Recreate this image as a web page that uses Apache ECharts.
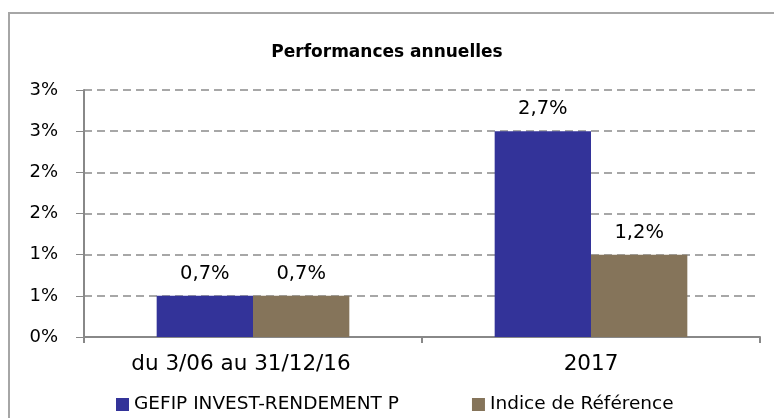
<!DOCTYPE html>
<html>
<head>
<meta charset="utf-8">
<script src="https://cdn.jsdelivr.net/npm/echarts@6/dist/echarts.min.js"></script>
<style>
  html, body { margin: 0; padding: 0; background: #fff; }
  #chart { width: 774px; height: 418px; }
</style>
</head>
<body>
<div id="chart"></div>
<script>
var chart = echarts.init(document.getElementById('chart'));

var periods = ['du 3/06 au 31/12/16', '2017'];
var fundName = 'GEFIP INVEST-RENDEMENT P';
var indexName = 'Indice de Référence';
var fundPerf = [0.7, 2.7];
var indexPerf = [0.7, 1.2];

var font = 'DejaVu Sans';

var pct = function (v) {
    return v.toFixed(1).replace('.', ',') + '%';
};

var option = {
    animation: false,
    textStyle: { fontFamily: font },
    title: {
        text: 'Performances annuelles',
        left: 'center',
        top: 39,
        textStyle: { fontFamily: font, fontSize: 17, fontWeight: 'bold', color: '#000' }
    },
    graphic: [{
        type: 'rect',
        shape: { x: 9, y: 13, width: 800, height: 450 },
        style: { fill: 'none', stroke: '#a6a6a6', lineWidth: 2 },
        silent: true
    }],
    legend: {
        left: 111,
        top: 390,
        itemWidth: 13,
        itemHeight: 13,
        itemGap: 73,
        icon: 'rect',
        textStyle: { fontFamily: font, fontSize: 18.5, color: '#000' },
        data: [fundName, indexName]
    },
    grid: { left: 84, right: 14, top: 90, bottom: 81 },
    xAxis: {
        type: 'category',
        data: periods,
        axisLine: { lineStyle: { color: '#888', width: 2 } },
        axisTick: { show: true, interval: 0, length: 6, lineStyle: { color: '#888', width: 2 } },
        axisLabel: {
            interval: 0,
            fontFamily: font, fontSize: 21.5, color: '#000', margin: 16,
            formatter: function (v, i) {
                // the first label sits a little left of its category in the original
                return i === 0 ? '{shift|' + v + '}' : v;
            },
            rich: {
                shift: { fontFamily: font, fontSize: 21.5, color: '#000', padding: [0, 24, 0, 0] }
            }
        }
    },
    yAxis: {
        type: 'value',
        min: 0.2,
        max: 3.2,
        interval: 0.5,
        axisLine: { show: true, lineStyle: { color: '#888', width: 2 } },
        axisTick: { show: true, length: 8, lineStyle: { color: '#888', width: 1 } },
        axisLabel: {
            fontFamily: font, fontSize: 18, color: '#000', margin: 26,
            formatter: function (v) { return Math.round(v) + '%'; }
        },
        splitLine: { show: true, lineStyle: { color: '#8a8a8a', type: [8, 5], width: 1.5 } }
    },
    series: [
        {
            name: fundName,
            type: 'bar',
            data: fundPerf,
            barGap: '0%',
            barCategoryGap: '43%',
            itemStyle: { color: '#333399' },
            label: {
                show: true, position: 'top', distance: 12,
                fontFamily: font, fontSize: 19.5, color: '#000',
                formatter: function (p) { return pct(p.value); }
            }
        },
        {
            name: indexName,
            type: 'bar',
            data: indexPerf,
            itemStyle: { color: '#85745a' },
            label: {
                show: true, position: 'top', distance: 12,
                fontFamily: font, fontSize: 19.5, color: '#000',
                formatter: function (p) { return pct(p.value); }
            }
        }
    ]
};

chart.setOption(option);
</script>
</body>
</html>
